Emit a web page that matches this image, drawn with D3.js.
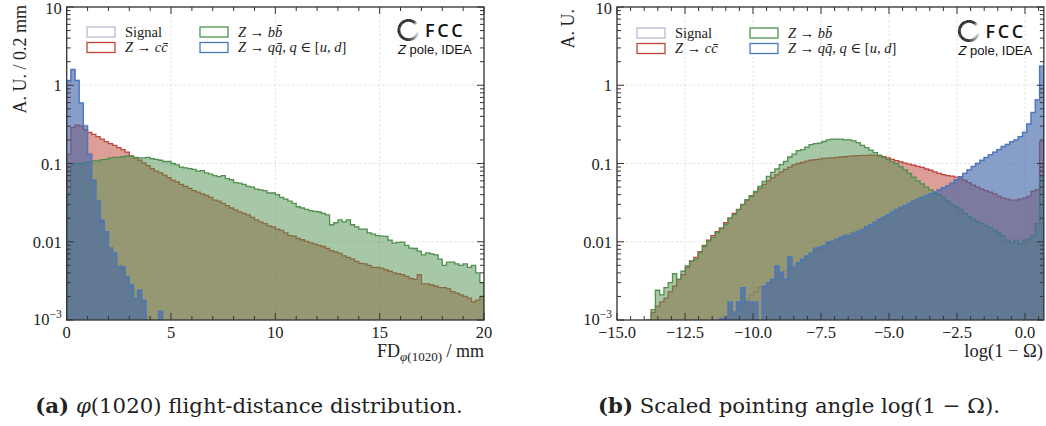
<!DOCTYPE html>
<html><head><meta charset="utf-8">
<script src="https://cdn.jsdelivr.net/npm/d3@7"></script>
<style>
body{margin:0;background:#fff}
svg{display:block}
text{font-family:"Liberation Serif","DejaVu Serif",serif;fill:#222}
</style>
</head><body>
<svg id="c" width="1046" height="426"></svg>
<script>
// ---------------- DATA ----------------
// Panel (a): flight distance, 100 bins of 0.2 mm on [0, 20]
const fdRange = [0, 20];
const fdBinCount = 100;
const fdSignal = [1.1,1.55,1.15,0.6,0.31,0.135,0.062,0.034,0.018,0.0125,
  0.0085,0.007,0.0052,0.0045,0.0036,0.0027,0.0022,0.0021,0.0016,0.0011];
const fdQQ = [1.15,1.6,1.15,0.59,0.3,0.13,0.061,0.033,0.019,0.0135,
  0.0083,0.0072,0.0048,0.0048,0.0035,0.0028,0.0019,0.0024,0.0018,0,
  0,0,0.0013];
const fdCC = [0.132,0.29,0.31,0.30,0.27,0.25,0.235,0.22,0.205,0.19,
  0.18,0.17,0.16,0.15,0.14,0.125,0.118,0.11,0.102,0.094,
  0.086,0.08,0.076,0.071,0.066,0.061,0.058,0.054,0.051,0.048,
  0.045,0.043,0.041,0.039,0.037,0.034,0.033,0.031,0.029,0.027,
  0.0255,0.024,0.023,0.022,0.0205,0.019,0.018,0.017,0.016,0.0155,
  0.0145,0.014,0.013,0.012,0.0118,0.011,0.0106,0.0101,0.0097,0.0093,
  0.009,0.0087,0.0082,0.0077,0.0074,0.0071,0.0066,0.0063,0.006,0.0056,
  0.0053,0.0052,0.005,0.0047,0.0047,0.0046,0.0044,0.0042,0.004,0.0039,
  0.0038,0.0036,0.0034,0.0033,0.0038,0.0029,0.0029,0.0028,0.0027,0.0026,
  0.0026,0.0025,0.0023,0.0022,0.0021,0.002,0.0019,0.0017,0.0018,0.002];
const fdBB = [0.042,0.095,0.1,0.1,0.102,0.105,0.108,0.108,0.112,0.113,
  0.118,0.12,0.12,0.122,0.125,0.123,0.12,0.118,0.118,0.12,
  0.115,0.113,0.11,0.106,0.106,0.1,0.096,0.09,0.088,0.086,
  0.084,0.08,0.081,0.076,0.073,0.07,0.068,0.07,0.064,0.062,
  0.057,0.056,0.054,0.051,0.05,0.047,0.046,0.045,0.042,0.042,
  0.04,0.037,0.035,0.033,0.031,0.028,0.027,0.026,0.025,0.0245,
  0.024,0.023,0.022,0.0165,0.0175,0.019,0.018,0.019,0.0165,0.0155,
  0.0145,0.0145,0.013,0.0125,0.012,0.0118,0.0117,0.0105,0.0096,0.0098,
  0.0099,0.009,0.0083,0.0082,0.0076,0.0068,0.0072,0.007,0.0068,0.006,
  0.005,0.0055,0.0055,0.0052,0.005,0.0052,0.0047,0.005,0.004,0.003];

// Panel (b): log(1 - Omega), 100 bins on [-15, log 2]
const angRange = [-15, 0.693];
const angBinCount = 100;
const angSignal = [0,0,0,0,0,0,0,0,0,0,
  0,0,0,0,0,0,0,0,0,0,
  0,0,0,0,0.001,0.0011,0.0012,0.00128,0.00142,0.0016,
  0.0018,0.0021,0.0023,0.0026,0.0027,0.003,0.0033,0.0036,0.0039,0.0043,
  0.0046,0.005,0.0054,0.0059,0.0064,0.007,0.0076,0.0082,0.0088,0.0095,
  0.0101,0.0108,0.0115,0.0122,0.0128,0.0132,0.0138,0.0146,0.0157,0.0168,
  0.018,0.0193,0.0207,0.0222,0.0238,0.0255,0.0272,0.029,0.031,0.0328,
  0.0348,0.0368,0.039,0.041,0.0432,0.0458,0.0488,0.0522,0.0562,0.0615,
  0.068,0.0748,0.083,0.091,0.1,0.109,0.119,0.129,0.139,0.151,
  0.163,0.176,0.189,0.202,0.221,0.252,0.318,0.448,0.655,1.74];
const angQQ = [0,0,0,0,0,0,0,0,0,0,
  0,0,0,0,0,0,0,0,0,0,
  0,0,0,0,0.00105,0.00105,0.0017,0.00126,0.0017,0.0026,
  0.0017,0.0017,0.0017,0,0.0027,0.003,0.0033,0.0049,0.0041,0.0033,
  0.0064,0.0047,0.0054,0.006,0.0066,0.0072,0.0083,0.0085,0.0089,0.0099,
  0.0101,0.0107,0.0114,0.012,0.012,0.0128,0.0135,0.0142,0.0155,0.0165,
  0.0178,0.0195,0.0205,0.022,0.024,0.026,0.0275,0.029,0.031,0.033,
  0.035,0.037,0.039,0.041,0.043,0.046,0.049,0.052,0.056,0.062,
  0.068,0.075,0.083,0.092,0.1,0.11,0.12,0.13,0.14,0.15,
  0.165,0.175,0.19,0.2,0.22,0.25,0.32,0.45,0.65,1.75];
const angCC = [0,0,0,0,0,0,0,0.001,0.00125,0.0015,
  0.0017,0.0019,0.0023,0.0027,0.0033,0.0038,0.0047,0.0057,0.0063,0.0075,
  0.009,0.0105,0.012,0.0135,0.015,0.0175,0.02,0.023,0.026,0.03,
  0.034,0.038,0.043,0.048,0.054,0.06,0.066,0.072,0.078,0.084,
  0.09,0.096,0.1,0.103,0.107,0.11,0.112,0.114,0.116,0.117,
  0.118,0.12,0.121,0.122,0.124,0.125,0.126,0.127,0.127,0.128,
  0.127,0.125,0.122,0.118,0.113,0.109,0.105,0.101,0.098,0.095,
  0.092,0.089,0.085,0.082,0.078,0.075,0.072,0.07,0.069,0.067,
  0.065,0.061,0.057,0.053,0.05,0.047,0.045,0.043,0.041,0.038,
  0.036,0.035,0.034,0.034,0.035,0.036,0.038,0.044,0.046,0.19];
const angBB = [0,0,0,0,0,0,0,0,0.00136,0.0024,
  0.0021,0.0026,0.003,0.0039,0.0033,0.0042,0.0049,0.0056,0.006,0.0072,
  0.0087,0.0102,0.0113,0.013,0.0146,0.0166,0.02,0.0222,0.0258,0.0298,
  0.0345,0.0389,0.044,0.051,0.059,0.0686,0.077,0.085,0.0966,0.106,
  0.121,0.132,0.146,0.15,0.162,0.174,0.18,0.182,0.191,0.2,
  0.205,0.205,0.205,0.2,0.2,0.195,0.185,0.17,0.16,0.148,
  0.138,0.128,0.12,0.112,0.105,0.1,0.091,0.083,0.075,0.067,
  0.06,0.055,0.05,0.046,0.042,0.04,0.037,0.033,0.03,0.028,
  0.026,0.023,0.021,0.0195,0.018,0.017,0.016,0.015,0.014,0.013,
  0.0118,0.0105,0.0096,0.0104,0.0094,0.0105,0.0108,0.0118,0.017,0.068];

// Ticks / labels
const yDomain = [1e-3, 10];
const yTicks = [10, 1, 0.1, 0.01, 0.001];
const yTickLabels = ["10", "1", "0.1", "0.01", "10^−3"];
const fdTicks = [0, 5, 10, 15, 20];
const fdTickLabels = ["0", "5", "10", "15", "20"];
const angTicks = [-15, -12.5, -10, -7.5, -5, -2.5, 0];
const angTickLabels = ["−15.0", "−12.5", "−10.0", "−7.5", "−5.0", "−2.5", "0.0"];
const seriesNames = ["Signal", "Z → cc\u0304", "Z → bb\u0304", "Z → qq\u0304,  q ∈ [u, d]"];

// ---------------- DRAWING ----------------
const W = 1046, H = 426;
const svg = d3.select("#c");
svg.append("rect").attr("width", W).attr("height", H).attr("fill", "#fff");
const plotTop = 7, plotBottom = 320;

const styles = [
  {stroke: "#bdb8d4", fill: "rgba(188,183,212,0.22)"},
  {stroke: "#c0453a", fill: "rgba(188,62,50,0.5)"},
  {stroke: "#4f8f4f", fill: "rgba(80,145,80,0.5)"},
  {stroke: "#4a78c0", fill: "rgba(64,104,170,0.6)"}
];

function mathText(sel, str) {
  const parts = str.match(/([A-Za-z]\u0304?)|([^A-Za-z]+)/g);
  parts.forEach(p => {
    const t = sel.append("tspan").text(p);
    if (/[A-Za-z]/.test(p)) t.attr("font-style", "italic");
  });
}

// scale a text's font size so that its rendered width matches the reference width
function fitWidth(sel, target) {
  const w = sel.node().getComputedTextLength();
  const fs = parseFloat(sel.attr("font-size"));
  if (w > 0) sel.attr("font-size", fs * target / w);
}

function drawPanel(p) {
  const g = svg.append("g");
  const x = d3.scaleLinear().domain(p.xDomain).range([p.left, p.right]);
  const y = d3.scaleLog().domain(yDomain).range([plotBottom, plotTop]);
  const clipId = "clip" + p.id;
  svg.append("clipPath").attr("id", clipId).append("rect")
    .attr("x", p.left).attr("y", plotTop).attr("width", p.right - p.left).attr("height", plotBottom - plotTop);

  // grid
  const grid = g.append("g").attr("stroke", "#dcdcdc").attr("stroke-width", 0.8).attr("stroke-dasharray", "2.5,2");
  p.xTicks.forEach(t => grid.append("line").attr("x1", x(t)).attr("x2", x(t)).attr("y1", plotTop).attr("y2", plotBottom));
  yTicks.forEach(t => grid.append("line").attr("x1", p.left).attr("x2", p.right).attr("y1", y(t)).attr("y2", y(t)));

  // histograms
  const n = p.bins;
  const edges = d3.range(n + 1).map(i => p.xDomain[0] + i * (p.xDomain[1] - p.xDomain[0]) / n);
  const hg = g.append("g").attr("clip-path", `url(#${clipId})`);
  const yb = plotBottom + 5;
  const line = d3.line();
  p.series.forEach((vals, k) => {
    const pts = [[x(edges[0]), yb]];
    for (let i = 0; i < n; i++) {
      const v = vals[i] || 0;
      const yy = v > 0 ? y(v) : yb;
      pts.push([x(edges[i]), yy], [x(edges[i + 1]), yy]);
    }
    pts.push([x(edges[n]), yb]);
    hg.append("path").attr("d", line(pts) + "Z").attr("fill", styles[k].fill);
    hg.append("path").attr("d", line(pts)).attr("fill", "none")
      .attr("stroke", styles[k].stroke).attr("stroke-width", 1.3);
  });

  // frame and ticks
  const ax = g.append("g").attr("stroke", "#333");
  const tick = (x1, y1, x2, y2) => ax.append("line").attr("x1", x1).attr("y1", y1).attr("x2", x2).attr("y2", y2).attr("stroke-width", 1);
  p.xTicks.forEach(t => { tick(x(t), plotBottom, x(t), plotBottom - 7); tick(x(t), plotTop, x(t), plotTop + 7); });
  for (let v = p.xDomain[0]; v <= p.xDomain[1] + 1e-9; v += p.minorStep) {
    if (p.xTicks.some(t => Math.abs(t - v) < 1e-6)) continue;
    tick(x(v), plotBottom, x(v), plotBottom - 4); tick(x(v), plotTop, x(v), plotTop + 4);
  }
  yTicks.forEach(t => { tick(p.left, y(t), p.left + 7, y(t)); tick(p.right, y(t), p.right - 7, y(t)); });
  [0.001, 0.01, 0.1, 1].forEach(d => {
    for (let m = 2; m <= 9; m++) {
      const v = d * m;
      tick(p.left, y(v), p.left + 4, y(v)); tick(p.right, y(v), p.right - 4, y(v));
    }
  });
  ax.append("rect").attr("x", p.left).attr("y", plotTop).attr("width", p.right - p.left)
    .attr("height", plotBottom - plotTop).attr("fill", "none").attr("stroke-width", 1.3);

  // tick labels
  yTicks.forEach((t, i) => {
    const lab = yTickLabels[i];
    const tx = g.append("text").attr("x", p.left - 5).attr("y", Math.max(y(t) + 6, 14))
      .attr("text-anchor", "end").attr("font-size", 16.5);
    if (lab.includes("^")) {
      const [b, e] = lab.split("^");
      tx.attr("y", y(t) + 5);
      tx.append("tspan").text(b);
      tx.append("tspan").text(e).attr("font-size", 11.5).attr("dy", -7);
    } else tx.text(lab);
  });
  p.xTicks.forEach((t, i) => {
    g.append("text").attr("x", x(t)).attr("y", 338).attr("text-anchor", "middle")
      .attr("font-size", 16.5).text(p.xTickLabels[i]);
  });

  // legend
  const lg = g.append("g");
  seriesNames.forEach((name, k) => {
    const col = Math.floor(k / 2), row = k % 2;
    const bx = p.legendX + col * p.legendColW, by = p.legendY + row * 15.5;
    lg.append("rect").attr("x", bx).attr("y", by).attr("width", 28).attr("height", 10)
      .attr("fill", "#fff").attr("stroke", styles[k].stroke).attr("stroke-width", 1.3);
    const t = lg.append("text").attr("x", bx + 38).attr("y", by + 9.5).attr("font-size", 14.5);
    if (k === 0) t.text(name); else mathText(t, name);
  });

  drawLogo(g, p.logoX, p.logoY);
  return {x, y, g};
}

function drawLogo(g, cx, cy) {
  const arc = d3.arc().innerRadius(8.2).outerRadius(11);
  const lg = g.append("g").attr("transform", `translate(${cx},${cy})`);
  for (let a = 0; a < 360; a += 4) {
    let c;
    if (a < 30 || a >= 180) c = 0;
    else if (a < 56) c = (a - 30) / 26;
    else if (a < 96) c = 1;
    else c = 1 - (a - 96) / 84;
    const gr = Math.round(20 + c * 235);
    lg.append("path").attr("d", arc({startAngle: a * Math.PI / 180, endAngle: (a + 4.6) * Math.PI / 180}))
      .attr("fill", `rgb(${gr},${gr},${gr})`);
  }
  g.append("text").attr("x", cx + 16.5).attr("y", cy + 6.5)
    .attr("font-size", 18).attr("font-weight", 600).attr("letter-spacing", 2.6)
    .style("font-family", "'Open Sans','Liberation Sans',sans-serif").style("fill", "#111").text("FCC");
  const zt = g.append("text").attr("x", cx - 10.5).attr("y", cy + 23.5).attr("font-size", 13)
    .style("font-family", "'Liberation Sans',sans-serif").style("fill", "#111");
  zt.append("tspan").attr("font-style", "italic").text("Z");
  zt.append("tspan").text(" pole, IDEA");
}

// Panel (a)
drawPanel({
  id: "a", left: 66.7, right: 484, xDomain: fdRange, bins: fdBinCount,
  series: [fdSignal, fdCC, fdBB, fdQQ], xTicks: fdTicks, xTickLabels: fdTickLabels, minorStep: 1,
  legendX: 87, legendY: 27, legendColW: 113, logoX: 408.5, logoY: 30
});
// Panel (b)
drawPanel({
  id: "b", left: 617, right: 617 + (angRange[1] - angRange[0]) * 27.2, xDomain: angRange, bins: angBinCount,
  series: [angSignal, angCC, angBB, angQQ], xTicks: angTicks, xTickLabels: angTickLabels, minorStep: 0.5,
  legendX: 637, legendY: 28, legendColW: 113, logoX: 969, logoY: 31
});

// axis labels
const xl1 = svg.append("text").attr("x", 484).attr("y", 357).attr("text-anchor", "end").attr("font-size", 18);
xl1.append("tspan").text("FD");
xl1.append("tspan").text("φ").attr("font-style", "italic").attr("font-size", 13).attr("dy", 4);
xl1.append("tspan").text("(1020)").attr("font-size", 13);
xl1.append("tspan").text(" / mm").attr("dy", -4);

svg.append("text").attr("x", 1043).attr("y", 357).attr("text-anchor", "end").attr("font-size", 18.5)
  .text("log(1 − Ω)");

svg.append("text").attr("transform", "translate(26,5) rotate(-90)").attr("text-anchor", "end")
  .attr("font-size", 18).text("A. U. / 0.2 mm");
svg.append("text").attr("transform", "translate(574,9) rotate(-90)").attr("text-anchor", "end")
  .attr("font-size", 18).text("A. U.");

// captions
const c1 = svg.append("text").attr("x", 249).attr("y", 413).attr("text-anchor", "middle")
  .attr("font-size", 19).style("font-family", "'DejaVu Serif',serif");
c1.append("tspan").attr("font-weight", "bold").text("(a)");
c1.append("tspan").text(" ");
c1.append("tspan").attr("font-style", "italic").text("φ");
c1.append("tspan").text("(1020) flight-distance distribution.");
fitWidth(c1, 428);

const c2 = svg.append("text").attr("x", 799).attr("y", 413).attr("text-anchor", "middle")
  .attr("font-size", 19).style("font-family", "'DejaVu Serif',serif");
c2.append("tspan").attr("font-weight", "bold").text("(b)");
c2.append("tspan").text(" Scaled pointing angle log(1 − Ω).");
fitWidth(c2, 402);
</script>
</body></html>
